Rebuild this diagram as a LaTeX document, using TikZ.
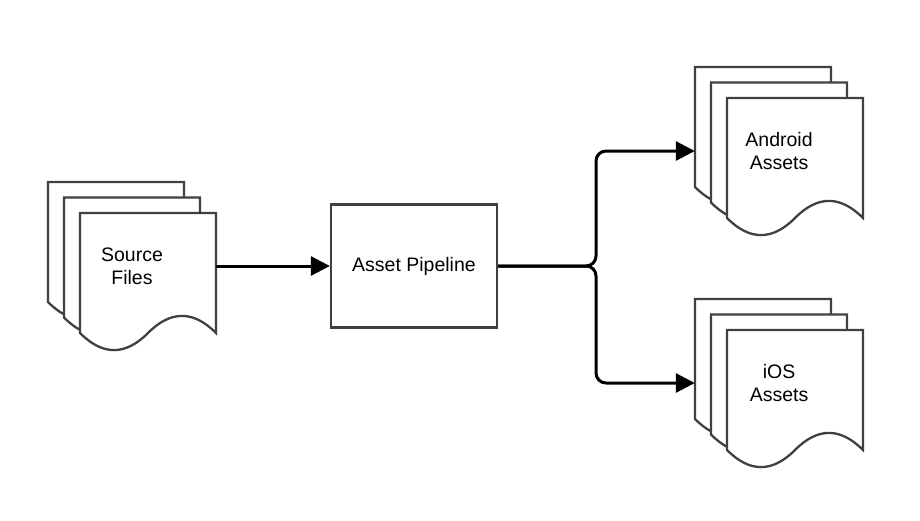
\documentclass[tikz,border=0pt]{standalone}
\usepackage{fontspec}
\setmainfont{Liberation Sans}
\usetikzlibrary{arrows.meta}
\tikzset{
  sheetline/.style={draw=black!75, line width=2.3pt, fill=white, line join=miter},
  stackbox/.style={inner sep=0pt, minimum width=168pt, minimum height=168pt, align=center, font=\fontsize{19.5}{23}\selectfont},
  procbox/.style={draw=black!75, line width=2.3pt, fill=white, minimum width=166pt, minimum height=123pt, inner sep=0pt, font=\fontsize{19.5}{23}\selectfont},
  conn/.style={draw=black, line width=3pt, rounded corners=10pt, -{Triangle[length=19pt,width=19pt]}}
}
\newcommand{\docsheet}[2]{%
  \begin{scope}[shift={(#1,#2)}]
    \path[sheetline] (0,0) -- (136,0) -- (136,120)
      .. controls (113.33,97.2) and (90.67,97.2) .. (68,120)
      .. controls (45.33,142.8) and (22.67,142.8) .. (0,120) -- cycle;
  \end{scope}}
\newcommand{\docstack}[4]{%
  \docsheet{#2}{#3}
  \docsheet{#2+16}{#3+15.5}
  \docsheet{#2+32}{#3+31}
  \node[stackbox] (#1) at (#2+84,#3+84) {#4};}
\begin{document}
\begin{tikzpicture}[x=1pt,y=-1pt]
  \useasboundingbox[fill=white] (0,0) rectangle (920,520);
  \docstack{src}{48}{182}{Source\\Files}
  \docstack{android}{695}{67}{Android\\Assets}
  \docstack{ios}{695}{299}{iOS\\Assets}
  \node[procbox] (pipe) at (414,266) {Asset Pipeline};
  \coordinate (split) at (596,266);
  \draw[conn] (src.east) -- (pipe.west);
  \draw[conn] (pipe.east) -- (split) |- (android.west);
  \draw[conn] (pipe.east) -- (split) |- (ios.west);
\end{tikzpicture}
\end{document}
